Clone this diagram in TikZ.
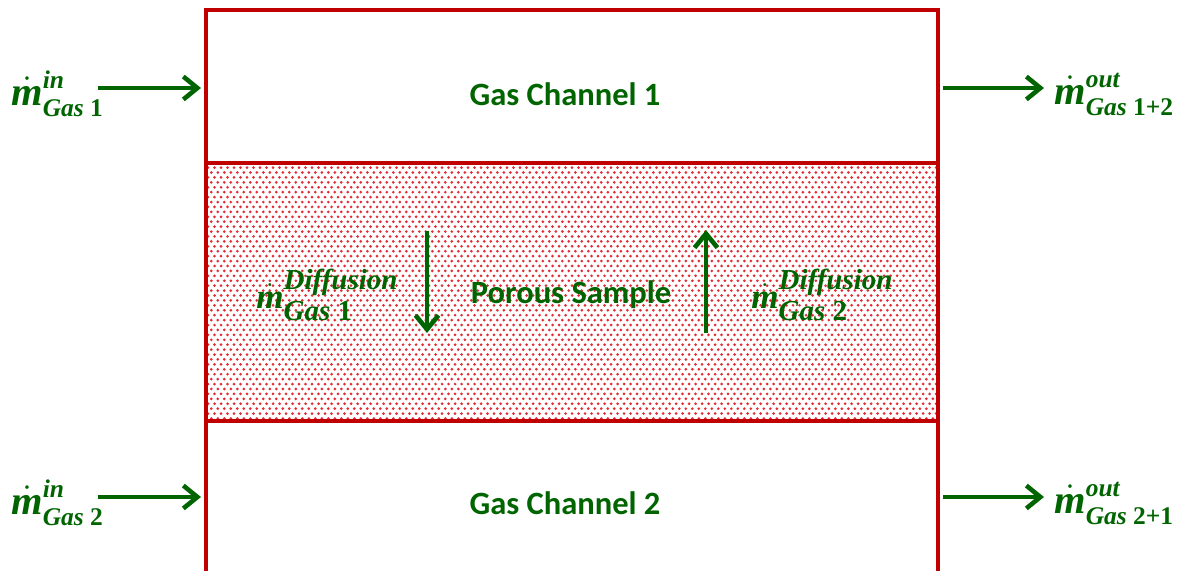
\documentclass[tikz,border=0pt]{standalone}
\usepackage{fontspec}
\usepackage{amsmath}
\setmainfont{Carlito}
\newfontfamily\lblfont{Liberation Serif}
\usetikzlibrary{patterns,arrows.meta}
\definecolor{chanred}{RGB}{192,0,0}
\definecolor{dotred}{RGB}{225,45,55}
\definecolor{flowgreen}{RGB}{0,100,0}
\pgfdeclarepatternformonly{pordots}{\pgfpoint{-1pt}{-1pt}}{\pgfpoint{5pt}{7pt}}{\pgfpoint{3.7pt}{5.6pt}}{%
	\pgfpathcircle{\pgfpoint{0pt}{0pt}}{.85pt}
	\pgfpathcircle{\pgfpoint{1.85pt}{2.8pt}}{.85pt}
	\pgfusepath{fill}}
% #1 size of m, #2 size of scripts, #3 upper, #4 lower
\newcommand{\mflow}[4]{\fontsize{#1}{#1}\selectfont
	$\dot{\text{\fontsize{#1}{#1}\selectfont\lblfont\bfseries\itshape m}}%
	^{\text{\fontsize{#2}{#2}\selectfont\lblfont\bfseries\itshape #3}}%
	_{\text{\fontsize{#2}{#2}\selectfont\lblfont\bfseries #4}}$}
\begin{document}
\begin{tikzpicture}[x=0.02cm,y=-0.02cm,
	every node/.style={text=flowgreen, font=\bfseries\fontsize{18.5}{22}\selectfont},
	rate/.style={anchor=west, inner sep=0pt},
	flow/.style={draw=flowgreen, line width=2.6pt, -{Straight Barb[length=8pt,width=13pt]}},
	wall/.style={draw=chanred, line width=2pt}]
	
	\useasboundingbox (0,0) rectangle (1185,571);
	
	% porous sample and channel walls
	\fill[pattern=pordots, pattern color=dotred] (206,163) rectangle (938,421);
	\draw[wall] (206,571) -- (206,10) -- (938,10) -- (938,571);
	\draw[wall] (206,163) -- (938,163);
	\draw[wall] (206,421) -- (938,421);
	
	\node (ch1) at (565,94) {Gas Channel 1};
	\node (por) at (571,295) {Porous Sample};
	\node (ch2) at (565,503) {Gas Channel 2};
	
	\node[rate] (min1) at (11,94) {\mflow{23}{14.5}{in}{\textit{Gas} 1}};
	\node[rate] (min2) at (11,503) {\mflow{23}{14.5}{in}{\textit{Gas} 2}};
	\node[rate] (mout1) at (1054,94) {\mflow{23}{14.5}{out}{\textit{Gas} 1+2}};
	\node[rate] (mout2) at (1054,503) {\mflow{23}{14.5}{out}{\textit{Gas} 2+1}};
	\node[rate] (mdif1) at (256,295) {\mflow{20}{16.5}{Diffusion}{\textit{Gas} 1}};
	\node[rate] (mdif2) at (751,295) {\mflow{20}{16.5}{Diffusion}{\textit{Gas} 2}};
	
	\coordinate (1) at (98,88);
	\coordinate (2) at (201,88);
	\coordinate (3) at (98,497);
	\coordinate (4) at (201,497);
	\coordinate (5) at (943,88);
	\coordinate (6) at (1044,88);
	\coordinate (7) at (943,497);
	\coordinate (8) at (1044,497);
	\coordinate (9) at (427,231);
	\coordinate (10) at (427,333);
	\coordinate (11) at (706,333);
	\coordinate (12) at (706,230);
	
	\path (1) edge[flow] (2);
	\path (3) edge[flow] (4);
	\path (5) edge[flow] (6);
	\path (7) edge[flow] (8);
	\path (9) edge[flow] (10);
	\path (11) edge[flow] (12);
	
\end{tikzpicture}
\end{document}
